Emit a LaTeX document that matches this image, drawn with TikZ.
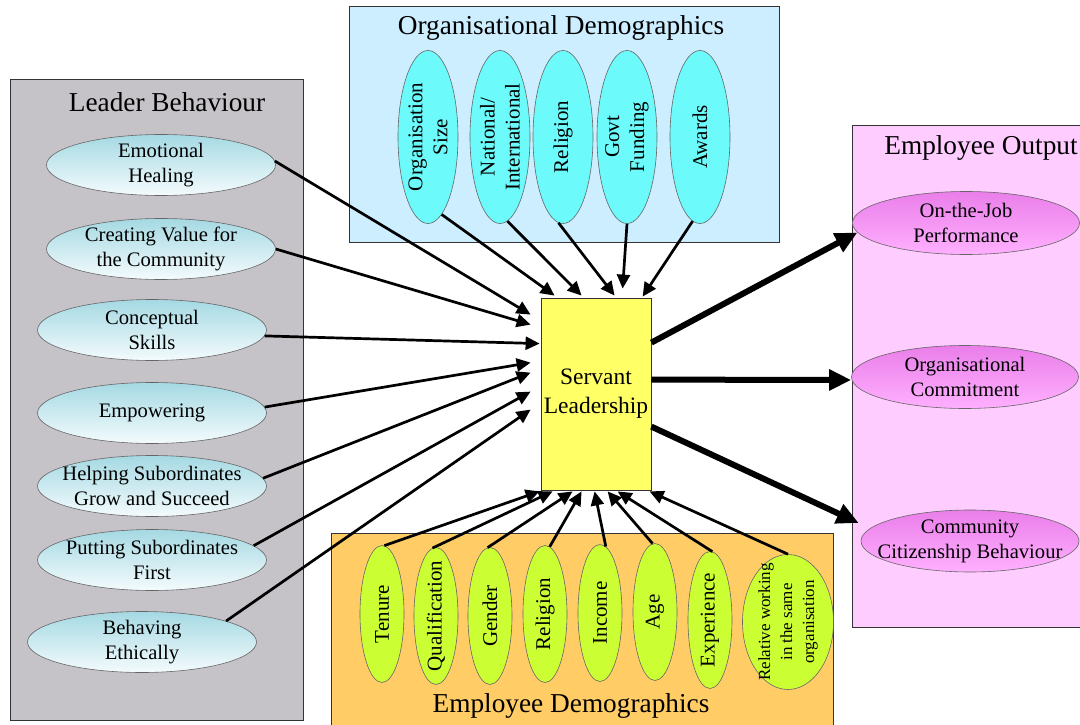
\documentclass[tikz,border=0pt]{standalone}
\usepackage{fontspec}
\setmainfont{Liberation Serif}
\usetikzlibrary{shapes.geometric,arrows.meta,calc}
\definecolor{lbgray}{HTML}{C5C3C8}
\definecolor{lbtop}{HTML}{A5D9E3}
\definecolor{lbbot}{HTML}{F4FBFD}
\definecolor{odbox}{HTML}{CCEEFF}
\definecolor{odell}{HTML}{6CFAFA}
\definecolor{slfill}{HTML}{FFFF66}
\definecolor{eobox}{HTML}{FFCCFF}
\definecolor{eotop}{HTML}{EA7EEA}
\definecolor{eobot}{HTML}{FFB0FF}
\definecolor{edbox}{HTML}{FFCC66}
\definecolor{edell}{HTML}{CCFF33}
\begin{document}
\begin{tikzpicture}[x=1pt,y=-1pt,
  groupbox/.style={draw=black!80, line width=0.8pt},
  grouptitle/.style={inner sep=0, font=\fontsize{27.3}{30}\selectfont},
  lell/.style={ellipse, draw=black!60, line width=0.6pt, top color=lbtop, bottom color=lbbot,
    minimum width=229, minimum height=61, inner xsep=-30pt, inner ysep=-8pt, align=center,
    font=\fontsize{20.6}{25}\selectfont},
  oell/.style={ellipse, draw=black!60, line width=0.6pt, fill=odell, rotate=90,
    minimum width=173, minimum height=60, inner xsep=-25pt, inner ysep=-8pt, align=center,
    font=\fontsize{21}{25}\selectfont},
  gell/.style={ellipse, draw=black!60, line width=0.6pt, fill=edell, rotate=90,
    minimum width=137, minimum height=44, inner xsep=-25pt, inner ysep=-5pt, align=center,
    font=\fontsize{21}{25}\selectfont},
  pell/.style={ellipse, draw=black!60, line width=0.6pt, top color=eotop, bottom color=eobot,
    minimum width=227, minimum height=63, inner xsep=-30pt, inner ysep=-8pt, align=center,
    font=\fontsize{20.6}{25}\selectfont},
  thin/.style={line width=2.7pt, -{Triangle[length=14pt,width=13pt]}},
  thick/.style={line width=6pt, -{Triangle[length=22pt,width=20pt]}}
]
\useasboundingbox (0,0) rectangle (1080,725);
\fill[white] (0,0) rectangle (1080,725);

% group boxes
\draw[groupbox, fill=lbgray] (10,79) rectangle (303,720);
\draw[groupbox, fill=odbox] (349,6) rectangle (779,242);
\draw[groupbox, fill=eobox] (852,125) rectangle (1090,627);
\draw[groupbox, fill=edbox] (331,533) rectangle (833,740);

\node[grouptitle] (tlb) at (167,102) {Leader Behaviour};
\node[grouptitle] (tod) at (561,28) {Organisational Demographics};
\node[grouptitle] (teo) at (981,148) {Employee Output};
\node[grouptitle] (ted) at (571,706) {Employee Demographics};

% leader behaviour
\node[lell] (eh) at (161,165) {Emotional\\Healing};
\node[lell] (cv) at (161,249) {Creating Value for\\the Community};
\node[lell] (cs) at (152,330) {Conceptual\\Skills};
\node[lell] (em) at (152,413) {Empowering};
\node[lell] (hs) at (152,486) {Helping Subordinates\\Grow and Succeed};
\node[lell] (ps) at (152,560) {Putting Subordinates\\First};
\node[lell] (be) at (142,642) {Behaving\\Ethically};

% organisational demographics
\node[oell] (os) at (428,137) {Organisation\\Size};
\node[oell] (ni) at (500,137) {National/\\International};
\node[oell] (ore) at (563,137) {Religion};
\node[oell] (gf) at (627,137) {Govt\\Funding};
\node[oell] (aw) at (700,137) {Awards};

% servant leadership
\node[draw=black!80, line width=0.8pt, fill=slfill, minimum width=110, minimum height=192,
  inner sep=0, align=center, font=\fontsize{23.5}{29}\selectfont] (sl) at (596,394) {Servant\\Leadership};

% employee output
\node[pell] (ojp) at (966,223) {On-the-Job\\Performance};
\node[pell] (oc) at (965,377) {Organisational\\Commitment};
\node[pell, minimum width=218, minimum height=62] (ccb) at (970,541) {Community\\Citizenship Behaviour};

% employee demographics
\node[gell] (te) at (382,614) {Tenure};
\node[gell] (qu) at (436,616) {Qualification};
\node[gell] (ge) at (490,616) {Gender};
\node[gell] (ere) at (545,614) {Religion};
\node[gell] (in) at (600,613) {Income};
\node[gell] (ag) at (655,612) {Age};
\node[gell] (ex) at (710,620) {Experience};
\node[gell, minimum width=135, minimum height=91, inner xsep=-25pt, inner ysep=-3pt,
  font=\fontsize{17}{22}\selectfont] (rw) at (788,622) {Relative working\\in the same\\organisation};

% arrows from leader behaviour
\draw[thin] (eh.2) -- ($(sl.north west)+(-10,17)$);
\draw[thin] (cv.east) -- ($(sl.north west)+(-10,27)$);
\draw[thin] (cs.-3) -- ($(sl.north west)+(-1,46)$);
\draw[thin] (em.3) -- ($(sl.north west)+(-10,65)$);
\draw[thin] (hs.4) -- ($(sl.north west)+(-10,75)$);
\draw[thin] (ps.8) -- ($(sl.north west)+(-10,94)$);
\draw[thin] (be.14) -- ($(sl.north west)+(-10,112)$);

% arrows from organisational demographics
\draw[thin] (os.190) -- ($(sl.north west)+(14,-2)$);
\draw[thin] (ni.185) -- ($(sl.north west)+(41,-2)$);
\draw[thin] (ore.177) -- ($(sl.north west)+(74,-2)$);
\draw[thin] (gf.west) -- ($(sl.north west)+(82,-9)$);
\draw[thin] (aw.175) -- ($(sl.north west)+(102,-1)$);

% arrows from employee demographics
\draw[thin] (te.-2) -- ($(sl.south west)+(-1,1)$);
\draw[thin] (qu.3) -- ($(sl.south west)+(12,1)$);
\draw[thin] (ge.2) -- ($(sl.south west)+(32,1)$);
\draw[thin] (ere.-4) -- ($(sl.south west)+(41,1)$);
\draw[thin] (in.-5) -- ($(sl.south west)+(54,1)$);
\draw[thin] (ag.2) -- ($(sl.south west)+(67,1)$);
\draw[thin] (ex.-2) -- ($(sl.south west)+(77,1)$);
\draw[thin] (rw.east) -- ($(sl.south west)+(109,1)$);

% outputs
\draw[thick] ($(sl.north east)+(0,45)$) -- (ojp.185);
\draw[thick] ($(sl.north east)+(0,82)$) -- ($(oc.west)+(0,3)$);
\draw[thick] ($(sl.north east)+(0,129)$) -- ($(ccb.west)+(-2,-18)$);
\end{tikzpicture}
\end{document}
